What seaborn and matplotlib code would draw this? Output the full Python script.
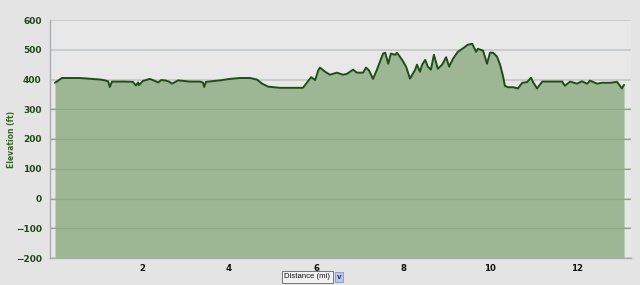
import matplotlib
matplotlib.use("Agg")
import matplotlib.pyplot as plt
import seaborn as sns
import numpy as np
import pandas as pd

distance_mi = [0.00, 0.16, 0.57, 1.03, 1.15, 1.22, 1.26, 1.31, 1.61, 1.79, 1.86, 1.91, 1.93,
               2.02, 2.18, 2.30, 2.37, 2.44, 2.53, 2.62, 2.69, 2.83, 3.10, 3.33, 3.40, 3.43,
               3.47, 3.79, 4.02, 4.25, 4.48, 4.64, 4.76, 4.90, 5.17, 5.70, 5.82, 5.89, 5.98,
               6.05, 6.09, 6.21, 6.32, 6.48, 6.62, 6.71, 6.85, 6.94, 7.08, 7.15, 7.22, 7.31,
               7.40, 7.47, 7.54, 7.59, 7.66, 7.72, 7.82, 7.86, 7.98, 8.07, 8.16, 8.28, 8.32,
               8.39, 8.44, 8.51, 8.57, 8.64, 8.71, 8.80, 8.90, 8.99, 9.06, 9.15, 9.26, 9.38,
               9.49, 9.59, 9.68, 9.72, 9.84, 9.93, 10.00, 10.07, 10.16, 10.23, 10.30, 10.34,
               10.41, 10.53, 10.64, 10.74, 10.85, 10.94, 10.99, 11.08, 11.20, 11.45, 11.66,
               11.72, 11.84, 12.00, 12.11, 12.23, 12.30, 12.46, 12.57, 12.76, 12.92, 13.03, 13.08]
elevation_ft = [389, 405, 405, 400, 397, 394, 375, 393, 393, 392, 380, 390, 381,
                395, 402, 395, 390, 398, 397, 393, 386, 397, 393, 393, 390, 375,
                392, 397, 402, 405, 405, 400, 386, 376, 372, 372, 395, 408, 398,
                430, 440, 426, 416, 423, 416, 419, 433, 423, 423, 440, 430, 402,
                433, 460, 487, 490, 453, 487, 483, 490, 466, 443, 403, 433, 450,
                426, 450, 466, 443, 433, 483, 436, 450, 475, 443, 470, 493, 505,
                517, 520, 493, 503, 497, 453, 490, 490, 477, 450, 410, 379,
                374, 374, 370, 389, 391, 406, 391, 370, 393, 393, 393,
                379, 393, 386, 394, 386, 396, 386, 389, 389, 392, 370, 382]
y_ticks = [-200, -100, 0, 100, 200, 300, 400, 500, 600]
x_ticks = [2, 4, 6, 8, 10, 12]
x_label = "Distance (mi)"
y_label = "Elevation (ft)"

df = pd.DataFrame({"dist": distance_mi, "elev": elevation_ft})

sns.set_style("white")
plt.rcParams['font.family'] = ['DejaVu Sans']

bg = "#e4e4e4"
fig = plt.figure(figsize=(6.4, 2.85), dpi=100, facecolor=bg)
ax = fig.add_axes([50/640, 1 - 258/285, (631-50)/640, (258-20)/285])
ax.set_facecolor("#e8e8e8")

ax.set_xlim(-0.115, 13.24)
ax.set_ylim(-200, 600)

for yt in y_ticks:
    ax.axhline(yt, color="#c4c6c8", lw=1.2, zorder=1)

ax.fill_between(df["dist"], df["elev"], -200, color="#9db794", zorder=2, lw=0)
for yt in y_ticks[1:-1]:
    if yt < 370:
        ax.axhline(yt, xmin=0, xmax=1, color="#8fa987", lw=0.9, zorder=2.5)
sns.lineplot(data=df, x="dist", y="elev", ax=ax, color="#1d4f14", lw=1.4, zorder=3)

ax.set_xticks(x_ticks)
ax.set_xticklabels([str(t) for t in x_ticks], fontsize=6.2, fontweight="bold", color="#111111")
ax.set_yticks(y_ticks)
ax.set_yticklabels([str(t).replace("-", "\u2212") for t in y_ticks], fontsize=6.5,
                   fontweight="bold", color="#1f4a16")
ax.tick_params(axis="both", length=4, width=0.8, color="#a8aeb4", direction="out")
ax.tick_params(axis="y", pad=2)
ax.tick_params(axis="x", length=3, pad=1)

for s in ["top", "right"]:
    ax.spines[s].set_visible(False)
for s in ["left", "bottom"]:
    ax.spines[s].set_color("#a8aeb4")
    ax.spines[s].set_linewidth(1.0)

ax.set_xlabel("")
ax.set_ylabel("")
fig.text(12/640, 1 - 139/285, y_label, fontsize=5.5, fontweight="bold", color="#2e6a1e",
         rotation=90, ha="center", va="center")

fig.text(307.5/640, 1 - 277/285, x_label, fontsize=5.6, color="#111111", ha="center", va="center",
         family=["Liberation Sans", "DejaVu Sans"],
         bbox=dict(boxstyle="square,pad=0.3", fc="#f2f2f2", ec="#777777", lw=0.7))
fig.text(339/640, 1 - 277/285, "v", fontsize=5, color="#1a3a8a", ha="center", va="center",
         fontweight="bold",
         bbox=dict(boxstyle="square,pad=0.3", fc="#b8c8e8", ec="#8898b8", lw=0.6))

fig.savefig("out.png", dpi=100, facecolor=bg)
